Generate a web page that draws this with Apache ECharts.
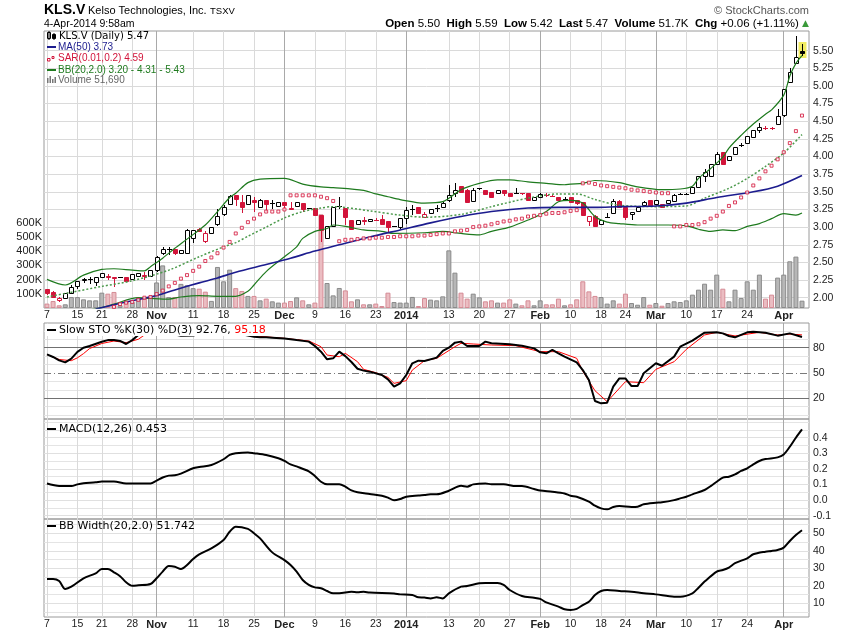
<!DOCTYPE html>
<html><head><meta charset="utf-8">
<script src="https://cdn.jsdelivr.net/npm/echarts@6/dist/echarts.min.js"></script>
<style>html,body{margin:0;padding:0;background:#fff}#c{width:850px;height:633px}</style>
</head><body><div id="c"></div><script>
// ---------- DATA ----------
const openP = [2.12,2.08,1.97,1.99,2.06,2.17,2.25,2.27,2.22,2.29,
2.31,2.29,2.29,2.29,2.27,2.31,2.32,2.31,2.39,2.64,
2.69,2.69,2.64,2.64,2.84,2.98,2.80,2.92,3.04,3.19,
3.33,3.45,3.36,3.33,3.38,3.28,3.39,3.34,3.30,3.35,
3.27,3.30,3.34,3.27,3.27,3.17,2.84,3.02,3.30,3.27,
3.10,3.04,3.10,3.08,3.10,3.12,3.09,3.02,3.00,3.13,
3.25,3.29,3.14,3.20,3.27,3.29,3.38,3.49,3.58,3.53,
3.37,3.55,3.52,3.50,3.49,3.52,3.49,3.49,3.49,3.49,
3.39,3.42,3.46,3.44,3.42,3.40,3.42,3.38,3.35,3.08,
3.16,3.04,3.15,3.20,3.37,3.29,3.18,3.23,3.32,3.39,
3.33,3.33,3.34,3.37,3.47,3.47,3.49,3.57,3.73,3.73,
3.90,4.06,3.95,4.04,4.16,4.19,4.28,4.38,4.41,4.40,
4.46,4.59,5.05,5.32,5.50];
const closeP = [2.07,2.01,2.00,2.07,2.15,2.23,2.26,2.27,2.30,2.35,
2.30,2.28,2.29,2.24,2.33,2.35,2.31,2.39,2.58,2.69,
2.69,2.63,2.67,2.96,2.96,2.94,2.91,3.00,3.16,3.29,
3.44,3.40,3.28,3.45,3.35,3.39,3.33,3.34,3.35,3.32,
3.26,3.35,3.25,3.27,3.17,2.96,3.02,3.28,3.30,3.15,
2.98,3.10,3.09,3.12,3.10,3.05,3.00,3.02,3.13,3.24,
3.25,3.20,3.19,3.25,3.27,3.34,3.46,3.53,3.50,3.35,
3.52,3.55,3.47,3.43,3.52,3.49,3.44,3.49,3.48,3.39,
3.43,3.47,3.45,3.44,3.38,3.40,3.36,3.34,3.17,3.16,
3.01,3.10,3.15,3.37,3.29,3.15,3.21,3.29,3.36,3.30,
3.39,3.29,3.39,3.45,3.47,3.47,3.57,3.73,3.78,3.90,
4.04,3.90,4.01,4.14,4.16,4.29,4.38,4.42,4.41,4.40,
4.57,4.95,5.20,5.41,5.47];
const lowP = [2.04,1.99,1.94,1.99,2.05,2.12,2.21,2.19,2.17,2.29,
2.25,2.15,2.28,2.24,2.25,2.31,2.25,2.30,2.36,2.61,
2.61,2.61,2.62,2.64,2.78,2.93,2.78,2.92,3.02,3.16,
3.32,3.30,3.20,3.32,3.22,3.27,3.22,3.25,3.29,3.24,
3.25,3.29,3.22,3.26,3.17,2.79,2.84,3.02,3.25,3.03,
2.98,3.04,3.03,3.08,3.09,3.05,2.92,3.01,2.97,3.05,
3.17,3.20,3.14,3.19,3.22,3.27,3.36,3.43,3.48,3.35,
3.35,3.53,3.45,3.43,3.48,3.44,3.43,3.49,3.45,3.39,
3.38,3.42,3.43,3.44,3.37,3.38,3.36,3.31,3.17,3.01,
3.01,3.04,3.13,3.19,3.29,3.10,3.10,3.22,3.30,3.30,
3.33,3.28,3.33,3.36,3.45,3.46,3.49,3.57,3.64,3.73,
3.90,3.90,3.93,4.02,4.13,4.19,4.28,4.33,4.38,4.38,
4.46,4.56,5.05,5.32,5.42];
const highP = [2.12,2.09,2.01,2.07,2.18,2.24,2.28,2.30,2.30,2.35,
2.34,2.29,2.29,2.29,2.33,2.35,2.36,2.39,2.59,2.72,
2.72,2.69,2.67,2.98,2.96,2.99,2.95,3.00,3.26,3.31,
3.45,3.46,3.45,3.46,3.43,3.40,3.39,3.38,3.35,3.35,
3.36,3.35,3.34,3.27,3.27,3.17,3.02,3.28,3.43,3.27,
3.10,3.10,3.15,3.12,3.13,3.17,3.09,3.02,3.13,3.29,
3.31,3.29,3.22,3.25,3.31,3.36,3.60,3.62,3.58,3.54,
3.55,3.56,3.52,3.50,3.52,3.53,3.49,3.55,3.49,3.49,
3.43,3.49,3.48,3.45,3.42,3.43,3.42,3.38,3.35,3.16,
3.17,3.10,3.20,3.40,3.38,3.29,3.21,3.29,3.37,3.39,
3.39,3.33,3.39,3.47,3.49,3.48,3.57,3.73,3.82,3.90,
4.06,4.07,4.01,4.14,4.19,4.29,4.38,4.48,4.43,4.42,
4.67,4.95,5.25,5.71,5.59];
const prevCloseFirst = 2.13;
const volumeK = [31,49,19,26,77,77,61,54,54,108,
101,113,20,47,42,73,66,77,180,300,
77,77,170,160,140,136,115,50,289,188,
270,140,120,85,85,54,66,47,38,38,
49,75,54,26,38,660,176,89,141,124,
47,61,26,26,31,14,108,42,38,38,
78,14,70,59,54,82,406,249,108,66,
101,75,47,54,38,38,61,31,19,54,
19,54,26,26,66,19,26,61,188,117,
85,77,31,54,31,101,35,23,77,23,
35,16,35,47,42,54,94,129,171,129,
235,136,47,129,70,188,129,235,66,94,
214,235,329,362,51.69];
const sar = [null,null,null,null,null,null,null,null,null,null,
null,1.87,1.91,1.93,1.94,1.97,2.00,2.01,2.05,2.10,
2.16,2.21,2.27,2.32,2.38,2.44,2.52,2.57,2.63,2.71,
2.79,2.91,2.99,3.07,3.12,3.18,3.22,3.22,3.22,3.25,
3.45,3.45,3.45,3.45,3.45,3.43,3.41,3.37,2.80,2.82,
2.82,2.83,2.84,2.84,2.85,2.85,2.86,2.86,2.87,2.87,
2.87,2.88,2.88,2.89,2.90,2.91,2.91,2.94,2.95,2.96,
3.00,3.01,3.02,3.04,3.06,3.08,3.09,3.11,3.12,3.15,
3.16,3.17,3.19,3.20,3.20,3.21,3.23,3.24,3.62,3.63,
3.61,3.59,3.58,3.57,3.56,3.55,3.53,3.52,3.51,3.50,
3.49,3.48,3.48,3.01,3.01,3.03,3.03,3.04,3.07,3.12,
3.16,3.22,3.30,3.35,3.42,3.49,3.59,3.69,3.79,3.87,
3.96,4.06,4.19,4.36,4.58];
const ma50 = [[8,1.84],[13,1.94],[18,2.03],[21,2.11],[25,2.21],[28,2.28],[31,2.36],[36,2.47],[40,2.56],[44,2.66],[48,2.75],[53,2.86],[58,2.96],[63,3.06],[68,3.15],[73,3.22],[79,3.27],[84,3.28],[90,3.28],[94,3.29],[100,3.30],[105,3.34],[110,3.42],[116,3.50],[120,3.58],[124,3.73]];
const bbUpper = [[0,2.26],[3,2.18],[6,2.32],[9,2.40],[11,2.41],[14,2.39],[16,2.38],[17,2.44],[19,2.56],[21,2.70],[23,2.83],[26,3.03],[28,3.22],[30,3.42],[31,3.48],[33,3.63],[35,3.68],[39,3.69],[42,3.61],[45,3.57],[47,3.56],[52,3.52],[54,3.47],[56,3.43],[58,3.39],[62,3.34],[65,3.36],[68,3.53],[71,3.62],[74,3.67],[76,3.67],[79,3.64],[82,3.62],[85,3.60],[86,3.61],[88,3.62],[90,3.66],[94,3.63],[97,3.57],[101,3.53],[104,3.54],[106,3.58],[107,3.69],[109,3.83],[111,3.99],[112,4.12],[114,4.30],[116,4.46],[118,4.60],[119,4.66],[121,4.87],[122,5.14],[123,5.32],[124,5.43]];
const bbMid = [[0,2.01],[3,2.06],[9,2.16],[14,2.24],[20,2.39],[25,2.58],[29,2.72],[31,2.78],[33,2.87],[36,3.00],[39,3.13],[42,3.22],[45,3.27],[47,3.29],[53,3.23],[58,3.17],[62,3.14],[68,3.18],[73,3.29],[79,3.41],[84,3.47],[87,3.47],[90,3.39],[94,3.31],[100,3.29],[105,3.30],[108,3.41],[112,3.55],[115,3.69],[118,3.86],[121,4.05],[124,4.31]];
const bbLower = [[0,1.76],[5,1.80],[9,1.86],[11,1.91],[15,2.00],[17,1.99],[20,1.98],[22,2.01],[25,2.03],[28,2.02],[31,2.02],[33,2.09],[34,2.18],[36,2.37],[39,2.58],[41,2.72],[42,2.84],[44,2.94],[46,2.98],[47,3.03],[49,3.01],[52,2.96],[55,2.94],[57,2.91],[62,2.92],[65,2.94],[68,2.91],[71,2.89],[73,2.94],[76,3.00],[79,3.10],[82,3.22],[84,3.36],[86,3.38],[88,3.34],[90,3.15],[92,3.07],[94,3.05],[97,3.03],[102,3.03],[105,3.02],[107,2.97],[109,2.94],[111,2.96],[113,2.95],[115,3.01],[117,3.05],[119,3.12],[121,3.19],[123,3.17],[124,3.20]];
const stoK = [[0,72],[1,69],[2,65],[3,62.6],[4,67],[5,75],[6,80],[7,82],[9,87],[10,89],[11,89],[12,88],[13,84.4],[14,89],[15,95],[16,97],[18,99],[20,97],[22,94.3],[24,94.5],[26,98],[28,99],[30,99],[32,96],[34,93],[35,92.3],[36,92.3],[37,91.9],[39,91],[40,90],[41,89],[43,87.2],[44,82],[45,75.3],[46,66.2],[47,67.4],[48,75.3],[49,70],[50,63],[51,55],[52,52.8],[53,51.6],[55,47.6],[56,42.5],[57,33.8],[58,37.7],[59,47.6],[60,61.5],[61,64.6],[62,64.2],[64,68.2],[65,76.1],[66,80],[67,86],[68,87.2],[69,82],[71,82],[72,87.2],[73,85.2],[76,84],[78,82.4],[80,79.2],[81,74.5],[82,73.3],[83,77.3],[84,73.3],[85,69.4],[87,62.6],[88,53.5],[89,41.7],[90,16.8],[91,14],[92,14.8],[93,33.8],[94,43.6],[95,43.6],[96,34.5],[97,34.5],[98,49.6],[100,61.5],[101,58.6],[103,69.4],[104,81.2],[106,88.3],[108,97.8],[110,98.2],[111,97],[112,93.9],[113,92.3],[115,98.2],[116,99],[118,97.8],[120,94.3],[122,97],[124,92.76]];
const stoD = [[0,72],[2,66],[4,64.6],[5,68],[6,73],[7,79],[9,85],[11,87.9],[13,86],[15,90],[16,95],[18,98],[20,98],[22,96],[24,95],[26,97],[28,99],[30,99.5],[32,97],[34,94],[39,91.1],[43,88],[45,81.2],[46,71.3],[48,69.3],[49,73.3],[51,63.4],[52,54.3],[54,50.4],[56,44.8],[57,37.7],[59,40.9],[60,53.5],[62,64.6],[64,67.4],[67,81.2],[68,85.2],[70,84.4],[73,83.2],[77,82.4],[81,75.3],[84,75.3],[87,67.4],[88,52],[90,29],[92,16],[93,23.9],[95,39.7],[98,38.5],[100,54.3],[103,63.4],[105,78],[108,95.1],[110,98.2],[113,93.9],[117,98.2],[120,95.1],[122,96.2],[124,95.18]];
const macd = [[0,0.107],[1,0.097],[2,0.090],[4,0.090],[5,0.101],[6,0.108],[8,0.114],[9,0.120],[11,0.120],[13,0.107],[15,0.107],[17,0.107],[18,0.125],[19,0.145],[20,0.157],[21,0.159],[22,0.170],[24,0.204],[25,0.212],[27,0.225],[29,0.262],[30,0.290],[31,0.300],[33,0.306],[34,0.301],[36,0.289],[38,0.268],[39,0.251],[40,0.229],[41,0.216],[43,0.185],[44,0.155],[45,0.118],[46,0.101],[48,0.101],[49,0.086],[50,0.062],[51,0.050],[53,0.039],[55,0.028],[56,0.016],[57,-0.001],[58,0.007],[59,0.022],[61,0.030],[62,0.033],[63,0.037],[64,0.037],[66,0.060],[68,0.092],[69,0.086],[70,0.101],[72,0.107],[73,0.101],[75,0.101],[77,0.090],[78,0.090],[80,0.071],[81,0.062],[83,0.054],[85,0.043],[86,0.028],[87,0.022],[89,-0.010],[90,-0.036],[91,-0.053],[92,-0.059],[93,-0.044],[94,-0.038],[96,-0.044],[97,-0.042],[98,-0.027],[100,-0.017],[101,-0.014],[103,0.000],[104,0.011],[105,0.022],[106,0.037],[108,0.065],[109,0.090],[110,0.118],[111,0.144],[112,0.150],[113,0.165],[114,0.187],[115,0.204],[116,0.229],[117,0.251],[118,0.263],[120,0.274],[121,0.293],[122,0.342],[123,0.400],[124,0.453]];
const bbWidth = [[0,23.9],[1,23.9],[2,22.7],[3,18.2],[4,19.5],[6,24.3],[8,27.1],[9,29.6],[10,29.6],[11,27.7],[12,25.5],[13,22],[14,20],[15,20.3],[17,21],[18,24.3],[19,28.1],[20,31.3],[21,30.9],[22,29.6],[23,31.9],[24,35.3],[25,38],[27,41.4],[29,46.2],[30,50.9],[31,53.8],[33,52.5],[34,50.0],[35,47.1],[37,39.1],[39,34.7],[40,31.9],[41,28.1],[42,23.3],[43,20.5],[44,19.1],[45,18.6],[46,17],[47,15.7],[48,15.7],[50,16.6],[51,16.3],[52,16.6],[53,16.1],[57,15.6],[58,15.1],[60,14.7],[61,13.4],[62,13.3],[63,12.8],[64,13.4],[65,12.8],[66,15.7],[68,19.5],[69,19.9],[71,21.4],[72,21.6],[74,21.6],[75,20.5],[76,17.6],[78,14.2],[80,13.2],[81,12.5],[82,10.5],[84,8.1],[85,6.6],[86,6.2],[87,6.8],[88,9.0],[89,10.9],[90,14.7],[91,17],[92,17.6],[94,17],[96,16.6],[98,15.7],[100,15.1],[103,13.8],[104,13.8],[106,15.7],[107,18.9],[108,22.4],[110,28.1],[111,29.0],[112,30.4],[113,32.9],[115,35.7],[116,38],[118,39.5],[119,39.9],[120,40.5],[121,41.8],[122,45.6],[123,49.0],[124,51.742]];
const tickIndex = [0,5,9,14,18,24,29,34,39,44,49,54,59,66,71,76,81,86,91,95,100,105,110,115,121];
const tickText = ['7','15','21','28','Nov','11','18','25','Dec','9','16','23','2014','13','20','27','Feb','10','18','24','Mar','10','17','24','Apr'];
const priceTicks = [2.00,2.25,2.50,2.75,3.00,3.25,3.50,3.75,4.00,4.25,4.50,4.75,5.00,5.25,5.50];
const stoMajor = [20,50,80];
const stoMinor = [0,10,30,40,60,70,90,100];
const macdTicks = [-0.1,0.0,0.1,0.2,0.3,0.4];
const macdMinor = [-0.05,0.05,0.15,0.25,0.35,0.45,0.5];
const bbwTicks = [10,20,30,40,50];
const bbwMinor = [5,15,25,35,45,55];

// ---------- CHART ----------
const RED = '#d2143a';
const N = openP.length;
const prevClose = closeP.map((c, i) => i === 0 ? prevCloseFirst : closeP[i - 1]);
const candleData = openP.map((o, i) => [i, o, closeP[i], lowP[i], highP[i], prevClose[i]]);
const volData = volumeK.map((v, i) => {
  const up = closeP[i] >= prevClose[i];
  return { value: [i, v * 1000], itemStyle: up
    ? { color: '#b7b7b7', borderColor: '#8a8a8a', borderWidth: 1 }
    : { color: '#ebbdc2', borderColor: '#d58b95', borderWidth: 1 } };
});
const sarData = [];
sar.forEach((v, i) => { if (v != null) sarData.push([i, v]); });
const isMonth = tickText.map(t => isNaN(+t) || t.length === 4);

const rightLbl = { color: '#222', fontSize: 10.5, fontFamily: 'Liberation Sans', distance: 4 };
function hl(v, color, txt, type) {
  const o = { yAxis: v, lineStyle: { color: color, type: type || 'solid' } };
  o.label = txt != null ? Object.assign({ show: true, position: 'end', formatter: txt }, rightLbl) : { show: false };
  return o;
}
function vlines(withLabels) {
  return tickIndex.map((idx, k) => ({
    xAxis: idx,
    lineStyle: { color: isMonth[k] ? '#a9a9a9' : '#dadada' },
    label: withLabels ? {
      show: true, position: 'start', formatter: tickText[k], distance: 2,
      color: '#222', fontFamily: 'Liberation Sans',
      fontSize: isMonth[k] ? 11 : 10.5, fontWeight: isMonth[k] ? 'bold' : 'normal'
    } : { show: false }
  }));
}
function host(gi, yi, lines) {
  return {
    type: 'line', xAxisIndex: gi, yAxisIndex: yi, data: [], silent: true, z: 0,
    markLine: { silent: true, symbol: ['none', 'none'], animation: false, z: 1,
      lineStyle: { type: 'solid', width: 1 }, label: { show: false }, emphasis: { disabled: true },
      data: lines }
  };
}

function renderCandle(params, api) {
  const i = api.value(0), o = api.value(1), c = api.value(2), l = api.value(3), h = api.value(4), pc = api.value(5);
  const po = api.coord([i, o]);
  const px = Math.round(po[0]);
  const yO = po[1], yC = api.coord([i, c])[1], yL = api.coord([i, l])[1], yH = api.coord([i, h])[1];
  const col = c >= pc ? '#000000' : RED;
  const kids = [];
  if (i === N - 1) {
    kids.push({ type: 'rect', shape: { x: px - 3.5, y: Math.round(yH) - 2, width: 8, height: Math.round(yL - yH) + 4 }, style: { fill: '#f2ec63' } });
  }
  kids.push({ type: 'line', shape: { x1: px + 0.5, y1: Math.round(yH), x2: px + 0.5, y2: Math.round(yL) }, style: { stroke: col, lineWidth: 1 } });
  const t = Math.round(Math.min(yO, yC)), b = Math.round(Math.max(yO, yC));
  if (b - t < 1) {
    kids.push({ type: 'line', shape: { x1: px - 2, y1: t + 0.5, x2: px + 3, y2: t + 0.5 }, style: { stroke: col, lineWidth: 1 } });
  } else {
    kids.push({ type: 'rect', shape: { x: px - 2 + 0.5, y: t + 0.5, width: 4, height: b - t }, style: { fill: c > o ? '#ffffff' : col, stroke: col, lineWidth: 1 } });
  }
  return { type: 'group', children: kids };
}

const XMIN = -0.49, XMAX = 125.15;
const gridBase = { left: 44, right: 41, show: true, borderColor: '#9a9a9a', borderWidth: 1 };
const xAx = gi => ({ type: 'value', gridIndex: gi, min: XMIN, max: XMAX, show: false });
const yHidden = (gi, mn, mx) => ({ type: 'value', gridIndex: gi, min: mn, max: mx, show: false, splitLine: { show: false } });

const priceLines = priceTicks.map(p => hl(p, '#dadada', p.toFixed(2))).concat(vlines(true));
const stoLines = stoMinor.map(v => hl(v, '#e4e4e4', null))
  .concat(vlines(false))
  .concat([hl(20, '#707070', '20'), hl(50, '#7a7a7a', '50', [7, 3, 1, 3]), hl(80, '#707070', '80')]);
const macdLines = macdMinor.map(v => hl(v, '#e4e4e4', null))
  .concat(macdTicks.map(v => hl(v, '#e0e0e0', v.toFixed(1)))).concat(vlines(false));
const bbwLines = bbwMinor.map(v => hl(v, '#e4e4e4', null))
  .concat(bbwTicks.map(v => hl(v, '#e0e0e0', String(v)))).concat(vlines(true));

const T = (x, y, text, opts) => ({ type: 'text', x: x, y: y, z: 100, silent: true,
  style: Object.assign({ text: text, fill: '#000', fontSize: 10, fontFamily: 'Liberation Sans', verticalAlign: 'middle' }, opts || {}) });
const L = (x1, y1, x2, y2, color, w) => ({ type: 'line', z: 100, silent: true, shape: { x1, y1, x2, y2 }, style: { stroke: color, lineWidth: w || 2 } });
const R = (x, y, w, h, fill, stroke) => ({ type: 'rect', z: 100, silent: true, shape: { x, y, width: w, height: h }, style: { fill: fill, stroke: stroke || null, lineWidth: 1 } });

const hdrRich = {
  b: { fontWeight: 'bold', fontSize: 11.5, fontFamily: 'Liberation Sans', fill: '#000' },
  n: { fontSize: 11.5, fontFamily: 'Liberation Sans', fill: '#000' },
  g: { fontSize: 9, fontFamily: 'DejaVu Sans', fill: '#3a9a3a' }
};
const hdrText = '{b|Open} {n|5.50}  {b|High} {n|5.59}  {b|Low} {n|5.42}  {b|Last} {n|5.47}  {b|Volume} {n|51.7K}  {b|Chg} {n|+0.06 (+1.11%)} {g|▲}';

const graphics = [
  T(44, 10, 'KLS.V', { fontSize: 14, fontWeight: 'bold' }),
  T(88, 10.5, 'Kelso Technologies, Inc.', { fontSize: 11 }),
  T(210, 11, 'TSXV', { fontSize: 9.5 }),
  T(44, 24, '4-Apr-2014 9:58am', { fontSize: 10.5 }),
  T(809, 10.5, '© StockCharts.com', { fontSize: 11, fill: '#555', align: 'right' }),
  { type: 'text', x: 809, y: 23.5, z: 100, silent: true, style: { text: hdrText, rich: hdrRich, align: 'right', verticalAlign: 'middle', fontSize: 11.5, fontFamily: 'Liberation Sans', fill: '#000' } },
  // price legend
  R(47.5, 32.5, 3, 6, '#fff', '#000'), L(49, 31, 49, 40, '#000', 1), R(52.5, 34.5, 3, 4, '#000', '#000'), L(54, 33, 54, 40, '#000', 1),
  T(59, 36, 'KLS.V (Daily) 5.47', { fontSize: 10, fontFamily: 'DejaVu Sans' }),
  L(47, 47, 56, 47, '#1c1c8e', 2),
  T(58, 47, 'MA(50) 3.73', { fill: '#1c1c8e' }),
  R(47.5, 58.5, 2.5, 2.5, '#fff', RED), R(52, 56.5, 2, 2, '#fff', RED),
  T(58, 58.5, 'SAR(0.01,0.2) 4.59', { fill: RED }),
  L(47, 70, 56, 70, '#1e7a1e', 2),
  T(58, 70, 'BB(20,2.0) 3.20 - 4.31 - 5.43', { fill: '#1e7a1e' }),
  R(47, 78, 1.5, 5, '#777'), R(49.5, 76, 1.5, 7, '#777'), R(52, 79, 1.5, 4, '#777'), R(54.5, 77, 1.5, 6, '#777'),
  T(58, 80.5, 'Volume 51,690', { fill: '#666' }),
  // STO legend (white box covers lines)
  R(45, 324, 230, 12, '#ffffff'),
  L(47, 330, 56, 330, '#000', 2),
  { type: 'text', x: 59, y: 330, z: 101, silent: true, style: { text: '{k|Slow STO %K(30) %D(3) 92.76,} {d|95.18}', verticalAlign: 'middle', fontSize: 11, fontFamily: 'DejaVu Sans',
    rich: { k: { fontSize: 11, fontFamily: 'DejaVu Sans', fill: '#000' }, d: { fontSize: 11, fontFamily: 'DejaVu Sans', fill: '#ff0000' } } } },
  L(47, 429, 56, 429, '#000', 2),
  T(59, 429, 'MACD(12,26) 0.453', { fontSize: 11, fontFamily: 'DejaVu Sans' }),
  L(47, 526, 56, 526, '#000', 2),
  T(59, 526, 'BB Width(20,2.0) 51.742', { fontSize: 11, fontFamily: 'DejaVu Sans' })
];

const option = {
  animation: false,
  backgroundColor: '#ffffff',
  grid: [
    Object.assign({ top: 31, height: 277 }, gridBase),
    Object.assign({ top: 323, height: 96 }, gridBase),
    Object.assign({ top: 419, height: 100 }, gridBase),
    Object.assign({ top: 519, height: 98 }, gridBase)
  ],
  xAxis: [xAx(0), xAx(1), xAx(2), xAx(3)],
  yAxis: [
    yHidden(0, 1.854, 5.778),
    { type: 'value', gridIndex: 0, position: 'left', min: 0, max: 1950704, interval: 100000,
      axisLine: { show: false }, axisTick: { show: false }, splitLine: { show: false },
      axisLabel: { margin: 2, fontSize: 11, color: '#222', fontFamily: 'Liberation Sans',
        formatter: v => (v >= 100000 && v <= 600000) ? Math.round(v / 1000) + 'K' : '' } },
    yHidden(1, -4.58, 109.3),
    yHidden(2, -0.121, 0.520),
    yHidden(3, 2.17, 58.17)
  ],
  graphic: { elements: graphics },
  series: [
    host(0, 0, priceLines),
    host(1, 2, stoLines),
    host(2, 3, macdLines),
    host(3, 4, bbwLines),
    { type: 'bar', xAxisIndex: 0, yAxisIndex: 1, data: volData, barWidth: 5, z: 1, silent: true },
    { type: 'custom', xAxisIndex: 0, yAxisIndex: 0, data: candleData, renderItem: renderCandle, clip: true, z: 3, silent: true,
      dimensions: ['i', 'open', 'close', 'low', 'high', 'prev'], encode: { x: 0, y: [1, 2, 3, 4] } },
    { type: 'line', xAxisIndex: 0, yAxisIndex: 0, data: bbUpper, smooth: 0.3, showSymbol: false, z: 4, silent: true, lineStyle: { color: '#1e7a1e', width: 1.2 } },
    { type: 'line', xAxisIndex: 0, yAxisIndex: 0, data: bbLower, smooth: 0.3, showSymbol: false, z: 4, silent: true, lineStyle: { color: '#1e7a1e', width: 1.2 } },
    { type: 'line', xAxisIndex: 0, yAxisIndex: 0, data: bbMid, smooth: 0.3, showSymbol: false, z: 4, silent: true, lineStyle: { color: '#4c9a4c', width: 1.5, type: [2, 2] } },
    { type: 'line', xAxisIndex: 0, yAxisIndex: 0, data: ma50, smooth: 0.3, showSymbol: false, z: 4, silent: true, lineStyle: { color: '#1c1c8e', width: 1.6 } },
    { type: 'scatter', xAxisIndex: 0, yAxisIndex: 0, data: sarData, symbol: 'rect', symbolSize: 3, z: 5, silent: true,
      itemStyle: { color: '#fff4f6', borderColor: RED, borderWidth: 1 } },
    { type: 'line', xAxisIndex: 1, yAxisIndex: 2, data: stoD, showSymbol: false, z: 4, silent: true, lineStyle: { color: '#ff0000', width: 1 } },
    { type: 'line', xAxisIndex: 1, yAxisIndex: 2, data: stoK, showSymbol: false, z: 5, silent: true, lineStyle: { color: '#000', width: 2 } },
    { type: 'line', xAxisIndex: 2, yAxisIndex: 3, data: macd, smooth: 0.3, showSymbol: false, z: 4, silent: true, lineStyle: { color: '#000', width: 2 } },
    { type: 'line', xAxisIndex: 3, yAxisIndex: 4, data: bbWidth, smooth: 0.3, showSymbol: false, z: 4, silent: true, lineStyle: { color: '#000', width: 2 } }
  ]
};
const chart = echarts.init(document.getElementById('c'), null, { renderer: 'canvas' });
chart.setOption(option);
</script></body></html>
